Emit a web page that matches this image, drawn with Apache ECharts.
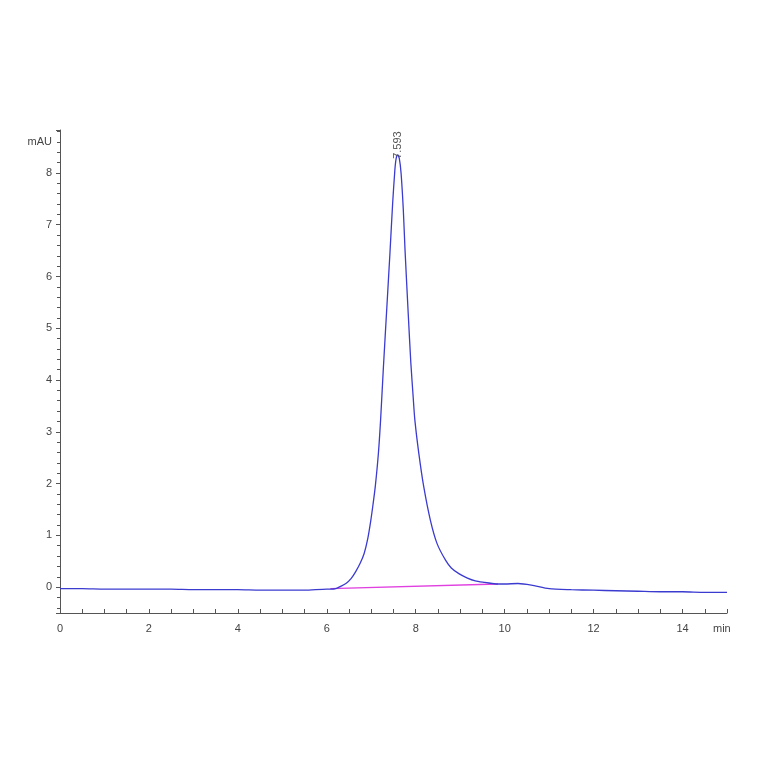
<!DOCTYPE html>
<html>
<head>
<meta charset="utf-8">
<script src="https://cdn.jsdelivr.net/npm/echarts@6/dist/echarts.min.js"></script>
<style>html,body{margin:0;padding:0;background:#fff}#c{width:764px;height:764px}</style>
</head>
<body>
<div id="c"></div>
<script>
const time = [0,0.5,1,1.5,2,2.5,3,3.5,4,4.5,5,5.5,6,6.1,6.2,6.3,6.43,6.55,6.65,6.75,6.84,6.92,6.99,7.04,7.09,7.16,7.21,7.27,7.35,7.42,7.48,7.53,7.56,7.593,7.63,7.67,7.72,7.76,7.83,7.89,7.94,7.98,8.07,8.18,8.33,8.48,8.67,8.8,8.97,9.15,9.34,9.55,9.72,9.87,10.0,10.3,10.6,11.0,11.5,12,12.5,13,13.5,14,14.5,15];
const signal = [-0.03,-0.03,-0.04,-0.04,-0.04,-0.04,-0.05,-0.05,-0.05,-0.06,-0.06,-0.06,-0.04,-0.04,-0.03,0.01,0.07,0.17,0.30,0.46,0.65,0.93,1.29,1.6,1.94,2.58,3.23,4.2,5.4,6.45,7.4,8.05,8.28,8.35,8.28,8.0,7.3,6.5,5.3,4.33,3.7,3.23,2.58,1.94,1.29,0.84,0.52,0.37,0.26,0.18,0.12,0.09,0.07,0.06,0.06,0.07,0.04,-0.03,-0.05,-0.06,-0.07,-0.08,-0.09,-0.09,-0.10,-0.10];
const baseTime = [6.08, 9.85];
const baseSignal = [-0.03, 0.06];
const peakTime = 7.593;
const peakSignal = 8.35;
const peakLabel = '7.593';
const xTicks = [0,2,4,6,8,10,12,14];

const chart = echarts.init(document.getElementById('c'));
const font = 'Liberation Sans';
chart.setOption({
  animation: false,
  grid: {left: 60, right: 37, top: 130, bottom: 151},
  xAxis: {
    type: 'value', min: 0, max: 15, interval: 2,
    name: 'min', nameLocation: 'end', nameGap: -14,
    nameTextStyle: {color: '#444', fontFamily: font, fontSize: 11, verticalAlign: 'top', padding: [10, 0, 0, 0]},
    axisLine: {show: true, onZero: false, lineStyle: {color: '#555', width: 1}},
    axisTick: {show: true, inside: true, length: 4, lineStyle: {color: '#555'}},
    minorTick: {show: true, splitNumber: 4, length: 4, lineStyle: {color: '#555'}},
    axisLabel: {color: '#444', fontFamily: font, fontSize: 11, margin: 10,
      formatter: v => xTicks.indexOf(v) >= 0 ? String(v) : ''},
    splitLine: {show: false}
  },
  yAxis: {
    type: 'value', min: -0.5, max: 8.83, splitNumber: 9,
    name: 'mAU', nameLocation: 'end', nameGap: -12,
    nameTextStyle: {color: '#444', fontFamily: font, fontSize: 11, align: 'right', verticalAlign: 'middle', padding: [0, 8, 0, 0]},
    axisLine: {show: true, lineStyle: {color: '#555', width: 1}},
    axisTick: {show: true, length: 4, lineStyle: {color: '#555'}},
    minorTick: {show: true, splitNumber: 5, length: 3, lineStyle: {color: '#555'}},
    axisLabel: {color: '#444', fontFamily: font, fontSize: 11, margin: 8,
      showMinLabel: false, showMaxLabel: false,
      formatter: v => Number.isInteger(v) ? String(v) : ''},
    splitLine: {show: false}
  },
  series: [
    {
      type: 'line', data: time.map((t, i) => [t, signal[i]]),
      showSymbol: false, smooth: 0.25,
      lineStyle: {color: '#3b3bd0', width: 1.3},
      markPoint: {
        symbol: 'circle', symbolSize: 0,
        data: [{coord: [peakTime, peakSignal], value: peakLabel}],
        label: {show: true, position: 'top', distance: -4, rotate: 90, color: '#555', fontFamily: font, fontSize: 11,
          formatter: peakLabel, align: 'left', verticalAlign: 'middle'}
      },
      z: 3
    },
    {
      type: 'line', data: baseTime.map((t, i) => [t, baseSignal[i]]),
      showSymbol: false, lineStyle: {color: '#e040e0', width: 1.3}, z: 2
    }
  ]
});
</script>
</body>
</html>
